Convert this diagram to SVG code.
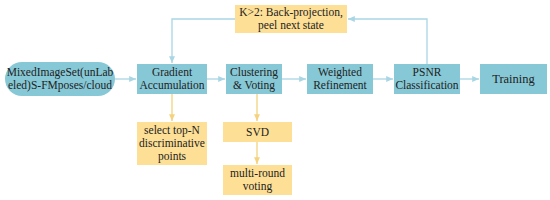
<svg xmlns="http://www.w3.org/2000/svg" width="550" height="200" viewBox="0 0 550 200">
<defs>
<style>
.t{fill:#86c8d6}
.y{fill:#fddf96}
.b{stroke:#a9d6e5;stroke-width:1.3;fill:none}
.o{stroke:#f5d27e;stroke-width:1.3;fill:none}
</style>
<marker id="ab" viewBox="0 0 8 8" refX="7" refY="4" markerWidth="6" markerHeight="6" orient="auto"><path d="M0,1 L7,4 L0,7 z" fill="#a9d6e5"/></marker>
<marker id="ao" viewBox="0 0 8 8" refX="7" refY="4" markerWidth="6" markerHeight="6" orient="auto"><path d="M0,1 L7,4 L0,7 z" fill="#f5d27e"/></marker>
</defs>
<rect width="550" height="200" fill="#fff"/>
<g id="connectors">
<path class="b" d="M115,79 H136" marker-end="url(#ab)"/>
<path class="b" d="M207,79 H225" marker-end="url(#ab)"/>
<path class="b" d="M282,79 H306" marker-end="url(#ab)"/>
<path class="b" d="M373,79 H393" marker-end="url(#ab)"/>
<path class="b" d="M460,79 H479" marker-end="url(#ab)"/>
<path class="b" d="M427,64 V19 H348" marker-end="url(#ab)"/>
<path class="b" d="M235,19 H172 V63" marker-end="url(#ab)"/>
<path class="o" d="M172,94 V121" marker-end="url(#ao)"/>
<path class="o" d="M257,94 V121" marker-end="url(#ao)"/>
<path class="o" d="M257,142 V164" marker-end="url(#ao)"/>
</g>
<g font-family="Liberation Serif, Times New Roman, Times, serif" font-size="11.5" fill="#222" text-anchor="middle">
<g id="input"><rect class="t" x="5" y="62" width="110" height="34" rx="17"/><text x="60" y="76">MixedImageSet(unLab</text><text x="60" y="89">eled)S-FMposes/cloud</text></g>
<g id="gradient"><rect class="t" x="137" y="64" width="70" height="30"/><text x="172" y="76">Gradient</text><text x="172" y="89">Accumulation</text></g>
<g id="clustering"><rect class="t" x="226" y="64" width="56" height="30"/><text x="254" y="76">Clustering</text><text x="254" y="89">&amp; Voting</text></g>
<g id="weighted"><rect class="t" x="307" y="64" width="66" height="30"/><text x="340" y="76">Weighted</text><text x="340" y="89">Refinement</text></g>
<g id="psnr"><rect class="t" x="394" y="64" width="66" height="30"/><text x="427" y="76">PSNR</text><text x="427" y="89">Classification</text></g>
<g id="training"><rect class="t" x="480" y="64" width="67" height="30"/><text x="513.5" y="83" font-size="12.5">Training</text></g>
<g id="backproj"><rect class="y" x="235" y="5" width="112" height="28"/><text x="291" y="16">K&gt;2: Back-projection,</text><text x="291" y="29">peel next state</text></g>
<g id="topn"><rect class="y" x="137" y="122" width="70" height="43"/><text x="172" y="134">select top-N</text><text x="172" y="147">discriminative</text><text x="172" y="160">points</text></g>
<g id="svd"><rect class="y" x="223" y="122" width="69" height="20"/><text x="257.5" y="136">SVD</text></g>
<g id="multiround"><rect class="y" x="223" y="165" width="69" height="30"/><text x="257.5" y="177">multi-round</text><text x="257.5" y="190">voting</text></g>
</g>
</svg>
